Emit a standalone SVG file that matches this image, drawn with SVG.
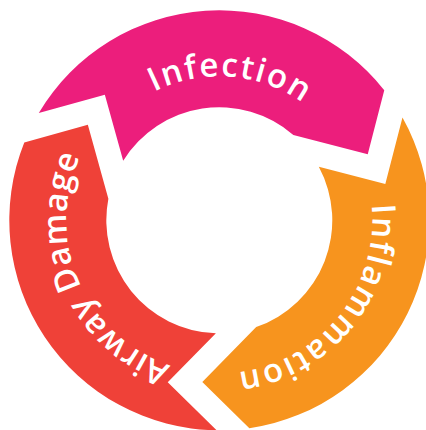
<svg xmlns="http://www.w3.org/2000/svg" xmlns:xlink="http://www.w3.org/1999/xlink" width="426" height="430" viewBox="0 0 426 430">
  <style>
    .lbl { font-family: "Open Sans", "Noto Sans", "Liberation Sans", sans-serif; font-weight: 600; font-size: 33px; letter-spacing: 1.8px; fill: #ffffff; }
    .tight { letter-spacing: 0.6px; }
    .pink { fill: #EC1E7C; }
    .orange { fill: #F7941E; }
    .red { fill: #EF4138; }
  </style>
  <defs>
    <path id="arc-infection" d="M 77.27 196.53 A 144 144 0 0 1 363.29 219.04" fill="none"/>
    <path id="arc-inflammation" d="M 325.39 110.06 A 153 153 0 0 1 133.98 347.30" fill="none"/>
    <path id="arc-airway" d="M 267.59 365.48 A 153 153 0 0 1 146.53 85.71" fill="none"/>
  </defs>
  <rect width="426" height="430" fill="#ffffff"/>
  <g id="connectors"></g>
  <g id="node-infection">
    <path class="pink" d="M 38.78 113.0 A 210 210 0 0 1 384.26 90.35 L 367.75 154.2 L 293.35 134.96 A 113 113 0 0 0 123.19 160.87 L 104.84 94.68 Z"/>
    <text class="lbl"><textPath xlink:href="#arc-infection" href="#arc-infection" startOffset="50%" text-anchor="middle">Infection</textPath></text>
  </g>
  <g id="node-inflammation">
    <path class="orange" d="M 402.48 117.62 A 210 210 0 0 1 249.36 428.14 L 202.31 381.91 L 256.17 327.1 A 113 113 0 0 0 318.83 166.79 L 385.32 183.99 Z"/>
    <text class="lbl"><textPath xlink:href="#arc-inflammation" href="#arc-inflammation" startOffset="50%" text-anchor="middle">Inflammation</textPath></text>
  </g>
  <g id="node-airway-damage">
    <path class="red" d="M 216.64 430.28 A 210 210 0 0 1 24.28 142.42 L 87.83 124.79 L 108.37 198.84 A 113 113 0 0 0 215.89 333.25 L 167.74 382.23 Z"/>
    <text class="lbl tight"><textPath xlink:href="#arc-airway" href="#arc-airway" startOffset="50%" text-anchor="middle">Airway Damage</textPath></text>
  </g>
</svg>
